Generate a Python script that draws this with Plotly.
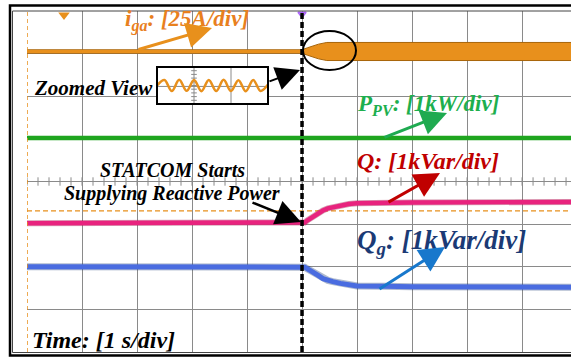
import numpy as np
import plotly.graph_objects as go

# ---------------- data ----------------
# time base: 1 s/div, event (STATCOM start) at t = 0
T_MIN, T_MAX = -5.0, 4.89

# channel ground positions, in divisions from screen centre
CH_POS = {"1": 3.05, "2": 1.02, "4": -0.98, "3": -2.0}

# ch1: grid current i_ga envelope amplitude [A], 25 A/div
iga_t = [-5.0, 0.0, 0.1, 0.2, 0.3, 0.45, 4.89]
iga_amp = [1.0, 1.0, 2.2, 3.4, 4.3, 5.3, 5.3]

# ch2: PV power [kW], 1 kW/div
ppv_t = [-5.0, 4.89]
ppv_val = [0.0, 0.0]

# ch4: STATCOM reactive power Q [kVar], 1 kVar/div
q_t = [-5.0, 0.0, 0.05, 0.1, 0.2, 0.3, 0.38, 0.47, 0.56, 0.7, 0.85, 1.0, 1.5, 2.0, 4.89]
q_val = [0.0, 0.0, 0.02, 0.07, 0.16, 0.24, 0.30, 0.35, 0.38, 0.42, 0.45, 0.47,
         0.48, 0.49, 0.50]

# ch3: grid reactive power Q_g [kVar], 1 kVar/div
qg_t = [-5.0, 0.0, 0.05, 0.1, 0.2, 0.3, 0.38, 0.47, 0.56, 0.7, 0.85, 1.0, 1.5, 2.0, 4.89]
qg_val = [0.0, 0.0, -0.01, -0.05, -0.12, -0.21, -0.28, -0.32, -0.35, -0.39, -0.42,
          -0.45, -0.46, -0.47, -0.48]

# zoomed view of i_ga (inset, 3 div wide)
inset_wave = [0.0, 0.30, -0.30, 0.31, -0.29, 0.30, -0.31, 0.30,
              -0.30, 0.31, -0.30, 0.29, -0.31, 0.30, -0.30, 0.05]

# cursor level (orange dashed), divisions
CURSOR_Y = -0.69

# ---------------- styling ----------------
ORANGE = "#E8901C"
ORANGE_DK = "#A8650A"
ORANGE_TXT = "#E8801E"
GREEN = "#1FA51F"
GREEN_TXT = "#1DAF4E"
PINK = "#E8237E"
BLUE = "#4A6CE0"
NAVY = "#1B3A75"
RED = "#C00000"
ARROW_BLUE = "#1878CC"
GRID = "#8A8A8A"
FONT = "Liberation Serif"

W, H = 571, 358
ML, MR, MT, MB = 27, 0, 11, 6
PW, PH = W - ML - MR, H - MT - MB
PX_PER_S = PW / (T_MAX - T_MIN)
PX_PER_DIV = PH / 8.0


def to_t(px):
    return T_MIN + (px - ML) / PX_PER_S


def to_y(py):
    return (MT + PH / 2 - py) / PX_PER_DIV


def to_px(px):
    return (px - ML) / PW


def to_py(py):
    return (H - MB - py) / PH


fig = go.Figure()

# i_ga band
iga_up = [CH_POS["1"] + a / 25.0 for a in iga_amp]
iga_lo = [CH_POS["1"] - a / 25.0 for a in iga_amp]
fig.add_trace(go.Scatter(x=iga_t, y=iga_lo, mode="lines",
                         line=dict(color=ORANGE_DK, width=1), hoverinfo="skip"))
fig.add_trace(go.Scatter(x=iga_t, y=iga_up, mode="lines", fill="tonexty",
                         fillcolor=ORANGE, line=dict(color=ORANGE_DK, width=1),
                         hoverinfo="skip"))
fig.add_trace(go.Scatter(x=iga_t, y=[CH_POS["1"]] * len(iga_t), mode="lines",
                         line=dict(color=ORANGE, width=3), hoverinfo="skip"))

# P_PV
fig.add_trace(go.Scatter(x=ppv_t, y=[CH_POS["2"] + v for v in ppv_val], mode="lines",
                         line=dict(color=GREEN, width=4.5), hoverinfo="skip"))

# Q
q_y = [CH_POS["4"] + v for v in q_val]
fig.add_trace(go.Scatter(x=q_t, y=q_y, mode="lines",
                         line=dict(color="#9A1040", width=6), opacity=0.4,
                         hoverinfo="skip"))
fig.add_trace(go.Scatter(x=q_t, y=q_y, mode="lines",
                         line=dict(color=PINK, width=4.5), hoverinfo="skip"))

# Q_g
qg_y = [CH_POS["3"] + v for v in qg_val]
fig.add_trace(go.Scatter(x=qg_t, y=qg_y, mode="lines",
                         line=dict(color=NAVY, width=7), opacity=0.35,
                         hoverinfo="skip"))
fig.add_trace(go.Scatter(x=qg_t, y=qg_y, mode="lines",
                         line=dict(color=BLUE, width=5), hoverinfo="skip"))

# minor ticks on the centre graticule line
tick_t = np.arange(T_MIN, T_MAX, 0.2)
fig.add_trace(go.Scatter(x=tick_t, y=np.zeros_like(tick_t), mode="markers",
                         marker=dict(symbol="line-ns", size=6,
                                     line=dict(color=GRID, width=1)),
                         hoverinfo="skip"))

# inset background
ix0, ix1, iy0, iy1 = 157, 268, 67, 104
fig.add_trace(go.Scatter(x=[to_t(ix0), to_t(ix1), to_t(ix1), to_t(ix0), to_t(ix0)],
                         y=[to_y(iy0), to_y(iy0), to_y(iy1), to_y(iy1), to_y(iy0)],
                         mode="lines", fill="toself", fillcolor="white",
                         line=dict(width=0), hoverinfo="skip"))

# inset contents
fig.add_trace(go.Scatter(x=[1, 1, None, 2, 2], y=[-1, 1, None, -1, 1], mode="lines",
                         line=dict(color=GRID, width=1), xaxis="x2", yaxis="y2",
                         hoverinfo="skip"))
fig.add_trace(go.Scatter(x=[0, 3], y=[-0.05, -0.05], mode="lines",
                         line=dict(color=GRID, width=1), xaxis="x2", yaxis="y2",
                         hoverinfo="skip"))
it = np.arange(-1, 1.01, 0.2)
fig.add_trace(go.Scatter(x=np.ones_like(it), y=it, mode="markers",
                         marker=dict(symbol="line-ew", size=4,
                                     line=dict(color=GRID, width=1)),
                         xaxis="x2", yaxis="y2", hoverinfo="skip"))
fig.add_trace(go.Scatter(x=np.linspace(0, 3, len(inset_wave)), y=inset_wave,
                         mode="lines", line_shape="spline",
                         line=dict(color=ORANGE, width=2.5),
                         xaxis="x2", yaxis="y2", hoverinfo="skip"))

# channel markers left of the graticule
chan_col = {"1": ORANGE, "2": GREEN, "4": PINK, "3": BLUE}
for ch, lvl in CH_POS.items():
    c = chan_col[ch]
    fig.add_trace(go.Scatter(x=[to_t(23)], y=[lvl], mode="markers", cliponaxis=False,
                             marker=dict(symbol="triangle-right", size=7, color=c),
                             hoverinfo="skip"))
    gy = lvl - 6 / PX_PER_DIV
    fig.add_trace(go.Scatter(
        x=[to_t(21), to_t(21), None, to_t(17), to_t(25), None,
           to_t(18.5), to_t(23.5), None, to_t(20), to_t(22)],
        y=[lvl, gy, None, gy, gy, None,
           gy - 2.2 / PX_PER_DIV, gy - 2.2 / PX_PER_DIV, None,
           gy - 4.4 / PX_PER_DIV, gy - 4.4 / PX_PER_DIV],
        mode="lines", cliponaxis=False, line=dict(color=c, width=1),
        hoverinfo="skip"))

# top markers
fig.add_trace(go.Scatter(x=[to_t(64)], y=[to_y(15)], mode="markers", cliponaxis=False,
                         marker=dict(symbol="triangle-down", size=10, color=ORANGE),
                         hoverinfo="skip"))
fig.add_trace(go.Scatter(x=[0], y=[to_y(14)], mode="markers", cliponaxis=False,
                         marker=dict(symbol="triangle-down-open", size=7,
                                     line=dict(color=ORANGE, width=1.5)),
                         hoverinfo="skip"))

shapes = []
# event marker
shapes.append(dict(type="line", xref="x", yref="paper", x0=0, x1=0, y0=0, y1=1,
                   line=dict(color="black", width=3.5, dash="6px,3px"), layer="above"))
# left trigger edge and cursor level
shapes.append(dict(type="line", xref="x", yref="paper", x0=T_MIN, x1=T_MIN, y0=0, y1=1,
                   line=dict(color=ORANGE, width=1.5, dash="4px,3px")))
shapes.append(dict(type="line", xref="paper", yref="y", x0=0, x1=1, y0=CURSOR_Y,
                   y1=CURSOR_Y, line=dict(color=ORANGE, width=1.2, dash="5px,3px"),
                   layer="below"))
# inset border
shapes.append(dict(type="rect", xref="paper", yref="paper", x0=to_px(ix0), x1=to_px(ix1),
                   y0=to_py(iy1), y1=to_py(iy0), line=dict(color="black", width=2)))
# zoom ellipse
shapes.append(dict(type="circle", xref="x", yref="y", x0=to_t(303), x1=to_t(356),
                   y0=to_y(70), y1=to_y(31), line=dict(color="black", width=2)))
# screen frame
shapes.append(dict(type="rect", xref="paper", yref="paper", x0=to_px(10), x1=1.05,
                   y0=to_py(355.5), y1=to_py(5.5), line=dict(color="black", width=2.5)))
shapes.append(dict(type="rect", xref="paper", yref="paper", x0=to_px(12.5), x1=1.05,
                   y0=to_py(352.5), y1=to_py(11), line=dict(color="#444", width=1)))

annotations = []


def label(text, px, py, size, color, anchor="left"):
    annotations.append(dict(text=text, x=to_t(px), y=to_y(py), xref="x", yref="y",
                            xanchor=anchor, yanchor="middle", showarrow=False,
                            font=dict(family=FONT, size=size, color=color)))


def arrow(tail, head, color, width=3, size=1.7):
    annotations.append(dict(text="", x=to_t(head[0]), y=to_y(head[1]),
                            ax=to_t(tail[0]), ay=to_y(tail[1]),
                            xref="x", yref="y", axref="x", ayref="y",
                            showarrow=True, arrowhead=2, arrowsize=size,
                            arrowwidth=width, arrowcolor=color, standoff=0))


label("<b><i>i<sub>ga</sub>: [25A/div]</i></b>", 123, 20, 23, ORANGE_TXT)
label("<b><i>Zoomed View</i></b>", 32, 88, 21, "black")
label("<b><i>STATCOM Starts</i></b>", 172, 170, 20, "black", "center")
label("<b><i>Supplying Reactive Power</i></b>", 172, 193, 20, "black", "center")
label("<b><i>P<sub>PV</sub>: [1kW/div]</i></b>", 355, 105, 23, GREEN_TXT)
label("<b><i>Q: [1kVar/div]</i></b>", 355, 161, 24, RED)
label("<b><i>Q<sub>g</sub>: [1kVar/div]</i></b>", 355, 242, 27, NAVY)
label("<b><i>Time: [1 s/div]</i></b>", 30, 340, 24, "black")

arrow((137, 50), (212, 28), ORANGE)
arrow((268, 82), (300, 70), "black", 2, 2.4)
arrow((251, 202), (301, 222), "black", 2.5, 2.0)
arrow((383, 138), (447, 113), "#1FAA50")
arrow((387, 203), (440, 173), RED)
arrow((378, 290), (445, 247), ARROW_BLUE)

fig.update_layout(
    width=W, height=H,
    margin=dict(l=ML, r=MR, t=MT, b=MB, pad=0),
    paper_bgcolor="white", plot_bgcolor="white",
    showlegend=False,
    xaxis=dict(range=[T_MIN, T_MAX], dtick=1, tick0=T_MIN, showgrid=True,
               gridcolor=GRID, gridwidth=1, zeroline=False, showticklabels=False,
               showline=False, ticks="", fixedrange=True),
    yaxis=dict(range=[-4, 4], dtick=1, tick0=-4, showgrid=True, gridcolor=GRID,
               gridwidth=1, zeroline=False, showticklabels=False, showline=False,
               ticks="", fixedrange=True),
    xaxis2=dict(domain=[to_px(ix0), to_px(ix1)], range=[0, 3], anchor="y2",
                showgrid=False, zeroline=False, showticklabels=False, ticks=""),
    yaxis2=dict(domain=[to_py(iy1), to_py(iy0)], range=[-1, 1], anchor="x2",
                showgrid=False, zeroline=False, showticklabels=False, ticks=""),
    shapes=shapes, annotations=annotations,
)

fig.write_html("out.html")
